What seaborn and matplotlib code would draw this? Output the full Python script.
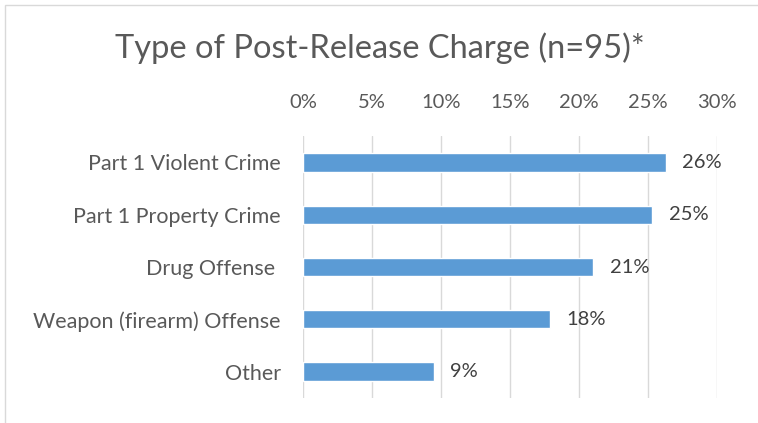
import matplotlib
matplotlib.use("Agg")
import matplotlib.pyplot as plt
import seaborn as sns
import pandas as pd
from matplotlib.patches import Rectangle

categories = ["Part 1 Violent Crime", "Part 1 Property Crime", "Drug Offense ",
              "Weapon (firearm) Offense", "Other"]
values = [26.3, 25.3, 21.05, 17.9, 9.47]
labels = ["26%", "25%", "21%", "18%", "9%"]
xticks = [0, 5, 10, 15, 20, 25, 30]
xticklabels = ["0%", "5%", "10%", "15%", "20%", "25%", "30%"]
title = "Type of Post-Release Charge (n=95)*"

sns.set_theme(style="white")
plt.rcParams['font.family'] = ['Lato', 'DejaVu Sans']

df = pd.DataFrame({"cat": categories, "val": values})

fig = plt.figure(figsize=(7.58, 4.23), dpi=100)
fig.patch.set_facecolor("white")
# chart border
fig.patches.append(Rectangle((5 / 758, -0.01), 1.2, 1 - 5 / 423 + 0.01,
                             transform=fig.transFigure, fill=False,
                             edgecolor="#D9D9D9", linewidth=1.0))

ax = fig.add_axes([303 / 758, 25.3 / 423, (716.7 - 303) / 758, (397.7 - 136.3) / 423])
sns.barplot(data=df, x="val", y="cat", orient="h", color="#5B9BD5",
            saturation=1, width=0.35, ax=ax)
ax.set_xlim(0, 30)
ax.set_xticks(xticks)
ax.set_xticklabels(xticklabels)
ax.xaxis.tick_top()
ax.set_xlabel("")
ax.set_ylabel("")
for s in ax.spines.values():
    s.set_visible(False)
ax.grid(axis="x", color="#D9D9D9", linewidth=1.0)
ax.set_axisbelow(True)
ax.tick_params(axis="x", length=0, pad=18, labelsize=14.5, labelcolor="#595959")
ax.tick_params(axis="y", length=0, pad=16, labelsize=15.5, labelcolor="#595959")

for i, (v, lab) in enumerate(zip(values, labels)):
    ax.annotate(lab, xy=(v, i), xytext=(12, 0), textcoords="offset points",
                va="center", ha="left", fontsize=14.5, color="#404040")

fig.text(380 / 758, 1 - 48 / 423, title, ha="center", va="center",
         fontsize=23.5, color="#595959")

fig.savefig("out.png", dpi=100)
